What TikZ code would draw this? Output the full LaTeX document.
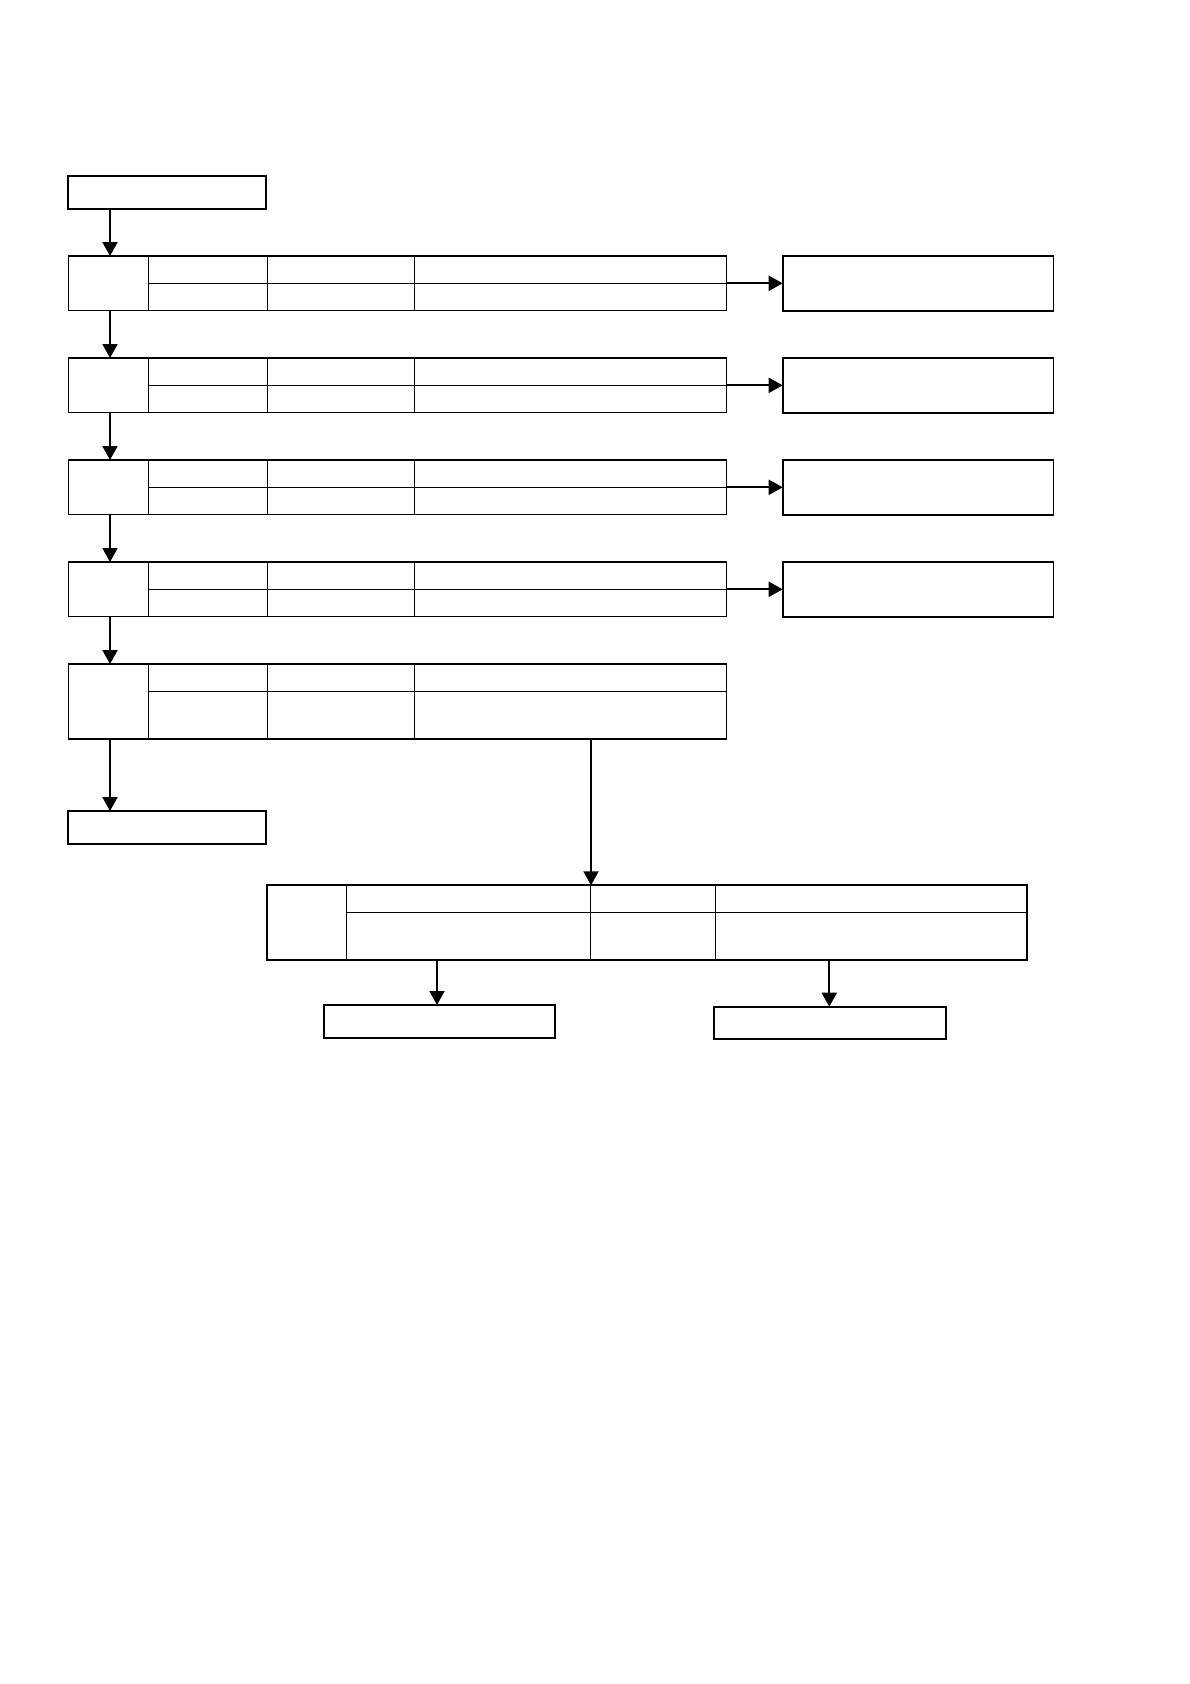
\documentclass[tikz,border=0pt]{standalone}
\usetikzlibrary{arrows.meta}
\begin{document}
\begin{tikzpicture}[x=1pt,y=-1pt,
  boxnode/.style={draw, rectangle, line width=1.8pt, inner sep=0pt, outer sep=0pt, anchor=north west},
  tblnode/.style={draw, rectangle, line width=1.5pt, inner sep=0pt, outer sep=0pt, anchor=north west},
  cellline/.style={line width=1.2pt},
  arr/.style={line width=1.9pt, -{Triangle[width=15pt,length=14pt]}}]
\useasboundingbox[fill=white] (0,0) rectangle (1190,1684);

% top box
\node[boxnode, minimum width=197.4pt, minimum height=33pt] (top) at (68.3,176) {};

% tables 1-4 and their right boxes
\foreach \i/\y in {1/256,2/358,3/460,4/562}{
  \node[tblnode, minimum width=658.4pt, minimum height=54.3pt] (t\i) at (68.3,\y) {};
  \foreach \c in {80,199,346.2}{
    \draw[cellline] ([xshift=\c pt]t\i.north west) -- ([xshift=\c pt]t\i.south west);
  }
  \draw[cellline] ([xshift=80pt,yshift=-27.3pt]t\i.north west) -- ([yshift=-27.3pt]t\i.north east);
  \node[boxnode, minimum width=270.8pt, minimum height=55pt] (r\i) at (782.7,\y) {};
  \draw[arr] ([yshift=-27.3pt]t\i.north east) -- ([yshift=-27.3pt]t\i.north east -| r\i.west);
}

% table 5
\node[tblnode, minimum width=658.4pt, minimum height=75pt] (t5) at (68.3,664) {};
\foreach \c in {80,199,346.2}{
  \draw[cellline] ([xshift=\c pt]t5.north west) -- ([xshift=\c pt]t5.south west);
}
\draw[cellline] ([xshift=80pt,yshift=-27.6pt]t5.north west) -- ([yshift=-27.6pt]t5.north east);

% bottom-left box
\node[boxnode, minimum width=197.4pt, minimum height=33pt] (endl) at (68.3,811) {};

% bottom table
\node[tblnode, line width=1.9pt, minimum width=760pt, minimum height=74.4pt] (t6) at (266.7,885.3) {};
\foreach \c in {79.6,323.6,448.6}{
  \draw[cellline] ([xshift=\c pt]t6.north west) -- ([xshift=\c pt]t6.south west);
}
\draw[cellline] ([xshift=79.6pt,yshift=-27pt]t6.north west) -- ([yshift=-27pt]t6.north east);

% final boxes
\node[boxnode, minimum width=231.6pt, minimum height=33.3pt] (fa) at (323.7,1005) {};
\node[boxnode, minimum width=231.7pt, minimum height=32.6pt] (fb) at (714.3,1006.7) {};

% vertical arrows on the left
\draw[arr] ([xshift=41.7pt]top.south west) -- ([xshift=41.7pt]t1.north west);
\draw[arr] ([xshift=41.7pt]t1.south west) -- ([xshift=41.7pt]t2.north west);
\draw[arr] ([xshift=41.7pt]t2.south west) -- ([xshift=41.7pt]t3.north west);
\draw[arr] ([xshift=41.7pt]t3.south west) -- ([xshift=41.7pt]t4.north west);
\draw[arr] ([xshift=41.7pt]t4.south west) -- ([xshift=41.7pt]t5.north west);
\draw[arr] ([xshift=41.7pt]t5.south west) -- ([xshift=41.7pt]endl.north west);

% table 5 to bottom table
\draw[arr] ([xshift=522.7pt]t5.south west) -- ([xshift=522.7pt]t5.south west |- t6.north);

% bottom table to final boxes
\draw[arr] ([xshift=170.3pt]t6.south west) -- ([xshift=170.3pt]t6.south west |- fa.north);
\draw[arr] ([xshift=562.6pt]t6.south west) -- ([xshift=562.6pt]t6.south west |- fb.north);
\end{tikzpicture}
\end{document}
